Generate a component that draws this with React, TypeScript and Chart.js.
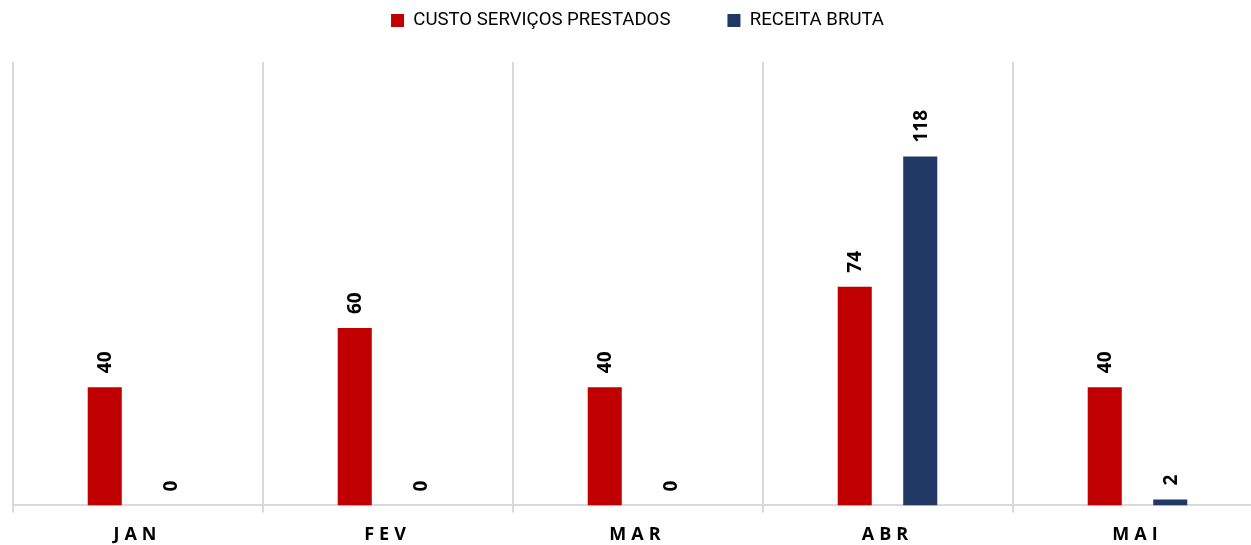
import React, { useEffect, useRef } from 'react';
import { Chart, registerables } from 'chart.js';

Chart.register(...registerables);

const categories = ['JAN', 'FEV', 'MAR', 'ABR', 'MAI'];
const custoServicosPrestados = [40, 60, 40, 74, 40];
const receitaBruta = [0, 0, 0, 118, 2];
const seriesNames = ['CUSTO SERVIÇOS PRESTADOS', 'RECEITA BRUTA'];
const seriesColors = ['#C00000', '#1F3864'];
const yMin = 0;
const yMax = 150;

const barLabelPlugin = {
  id: 'barLabels',
  afterDatasetsDraw(chart: any) {
    const ctx = chart.ctx;
    ctx.save();
    ctx.font = 'bold 19px "Open Sans"';
    ctx.fillStyle = '#000000';
    ctx.textAlign = 'left';
    ctx.textBaseline = 'middle';
    chart.data.datasets.forEach((ds: any, di: number) => {
      const meta = chart.getDatasetMeta(di);
      meta.data.forEach((bar: any, i: number) => {
        const v = ds.data[i];
        ctx.save();
        ctx.translate(bar.x, bar.y - 14);
        ctx.rotate(-Math.PI / 2);
        ctx.fillText(String(v), 0, 1);
        ctx.restore();
      });
    });
    ctx.restore();
    // x tick labels (ticks.z: 1) are drawn after this hook: give them letter spacing
    ctx.letterSpacing = '5px';
  },
  afterDraw(chart: any) {
    chart.ctx.letterSpacing = '0px';
  },
};

export default function App() {
  const canvasRef = useRef<HTMLCanvasElement | null>(null);

  useEffect(() => {
    if (!canvasRef.current) return;
    const chart = new Chart(canvasRef.current, {
      type: 'bar',
      data: {
        labels: categories,
        datasets: [
          {
            label: seriesNames[0],
            data: custoServicosPrestados,
            backgroundColor: seriesColors[0],
            borderWidth: 0,
            categoryPercentage: 0.524,
            barPercentage: 0.52,
          },
          {
            label: seriesNames[1],
            data: receitaBruta,
            backgroundColor: seriesColors[1],
            borderWidth: 0,
            categoryPercentage: 0.524,
            barPercentage: 0.52,
          },
        ],
      },
      options: {
        responsive: false,
        animation: false,
        devicePixelRatio: 1,
        layout: {
          padding: { top: -45.8, left: 12.5, right: 7.5, bottom: -13 },
        },
        plugins: {
          legend: {
            position: 'top',
            labels: {
              font: { family: 'Roboto', size: 18.6 },
              color: '#000000',
              boxWidth: 13,
              boxHeight: 13,
              padding: 57,
            },
          },
          title: {
            display: true,
            text: '',
            weight: 500,
            padding: 0,
            font: { size: 10, lineHeight: 2.22 },
          },
          tooltip: { enabled: false },
        },
        scales: {
          x: {
            grid: {
              offset: true,
              color: '#D9D9D9',
              lineWidth: 2,
              tickLength: 7,
            },
            border: { color: '#D9D9D9', width: 2 },
            ticks: {
              z: 1,
              color: '#000000',
              padding: 12,
              font: { family: 'Open Sans', weight: 'bold', size: 18 },
            },
          },
          y: {
            display: false,
            min: yMin,
            max: yMax,
          },
        },
      },
      plugins: [barLabelPlugin],
    });
    return () => chart.destroy();
  }, []);

  return (
    <div
      style={{
        position: 'fixed',
        left: 0,
        top: 0,
        width: 1251,
        height: 545,
        overflow: 'hidden',
        background: '#ffffff',
      }}
    >
      <canvas ref={canvasRef} width={1270} height={545} style={{ display: 'block' }} />
    </div>
  );
}
